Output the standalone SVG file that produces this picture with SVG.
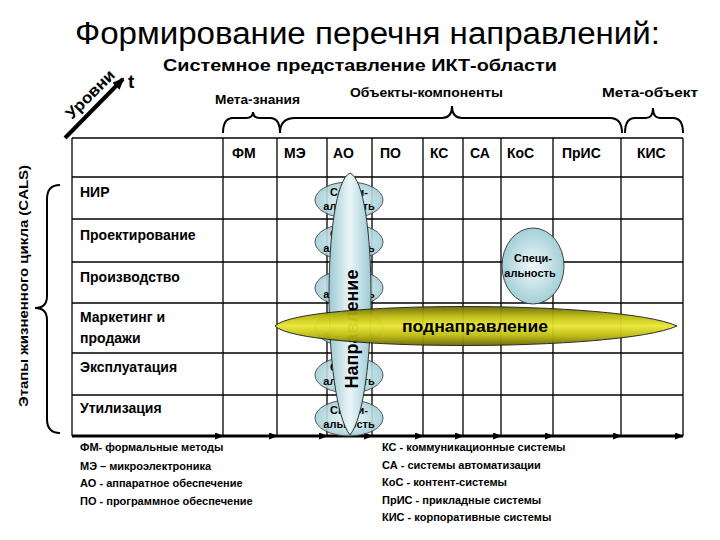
<svg xmlns="http://www.w3.org/2000/svg" width="720" height="540" viewBox="0 0 720 540">
<defs>
<style>
text{font-family:"Liberation Sans",Arial,sans-serif;fill:#000}
.b{font-weight:bold}
.grid line{stroke:#000;stroke-width:1.3}
.brace{fill:none;stroke:#000;stroke-width:2}
.hdr{font-size:14px;font-weight:bold}
.row{font-size:14px;font-weight:bold}
.leg{font-size:11px;font-weight:bold}
.sp{font-size:11px;font-weight:bold;text-anchor:middle}
.bl{fill:url(#gBlue);stroke:#444;stroke-width:1}
.conn line{stroke:#000;stroke-width:3;marker-end:url(#ah)}
</style>
<radialGradient id="gBlue" cx="50%" cy="50%" r="55%">
<stop offset="0" stop-color="#f0f9fa"/>
<stop offset="1" stop-color="#9ccbd4"/>
</radialGradient>
<linearGradient id="gLens" x1="0" y1="0" x2="1" y2="0">
<stop offset="0" stop-color="#9ccad3"/>
<stop offset="0.5" stop-color="#eaf6f8"/>
<stop offset="1" stop-color="#9ccad3"/>
</linearGradient>
<linearGradient id="gYel" x1="0" y1="0" x2="0" y2="1">
<stop offset="0" stop-color="#6a6800"/>
<stop offset="0.25" stop-color="#bcba10"/>
<stop offset="0.5" stop-color="#eae834"/>
<stop offset="0.75" stop-color="#bcba10"/>
<stop offset="1" stop-color="#6a6800"/>
</linearGradient>
<marker id="ah" markerWidth="9" markerHeight="7" refX="8" refY="3.5" orient="auto" markerUnits="userSpaceOnUse">
<path d="M0,0 L9,3.5 L0,7 Z" fill="#000"/>
</marker>
<marker id="ah2" markerWidth="12" markerHeight="10" refX="10" refY="5" orient="auto" markerUnits="userSpaceOnUse">
<path d="M0,0 L12,5 L0,10 Z" fill="#000"/>
</marker>
</defs>
<rect width="720" height="540" fill="#fff"/>

<g id="title">
<text x="75" y="44" font-size="31" textLength="585" lengthAdjust="spacingAndGlyphs">Формирование перечня направлений:</text>
<text x="163" y="71" font-size="17" class="b" textLength="394" lengthAdjust="spacingAndGlyphs">Системное представление ИКТ-области</text>
</g>

<g id="levels">
<line x1="65" y1="138" x2="123" y2="79" stroke="#000" stroke-width="4" marker-end="url(#ah2)"/>
<text transform="translate(94,98) rotate(-45)" font-size="16" class="b" text-anchor="middle" textLength="62" lengthAdjust="spacingAndGlyphs">Уровни</text>
<text x="128" y="88" font-size="19" class="b">t</text>
</g>

<g id="group-labels">
<text x="215" y="104" font-size="12" class="b" textLength="85" lengthAdjust="spacingAndGlyphs">Мета-знания</text>
<text x="350" y="97" font-size="12" class="b" textLength="153" lengthAdjust="spacingAndGlyphs">Объекты-компоненты</text>
<text x="602" y="97" font-size="12" class="b" textLength="96" lengthAdjust="spacingAndGlyphs">Мета-объект</text>
<path class="brace" d="M223,133 Q223,118 233,118 L246,118 Q253,118 253,112 Q253,118 260,118 L270,118 Q280,118 280,133"/>
<path class="brace" d="M280,133 Q280,118 295,118 L442,118 Q452,118 452,106 Q452,118 462,118 L610,118 Q622,118 622,133"/>
<path class="brace" d="M625,133 Q625,118 635,118 L646,118 Q653,118 653,108 Q653,118 660,118 L673,118 Q683,118 683,133"/>
</g>

<g id="lifecycle">
<path class="brace" d="M60,185 Q47,185 47,199 L47,296 Q47,308 35,308 Q47,308 47,320 L47,419 Q47,433 60,433"/>
<text transform="translate(28,286) rotate(-90)" font-size="13" class="b" text-anchor="middle" textLength="242" lengthAdjust="spacingAndGlyphs">Этапы жизненного цикла (CALS)</text>
</g>

<g class="grid" id="table">
<line x1="72" y1="138" x2="683" y2="138"/>
<line x1="72" y1="177" x2="683" y2="177"/>
<line x1="72" y1="219" x2="683" y2="219"/>
<line x1="72" y1="262" x2="683" y2="262"/>
<line x1="72" y1="303" x2="683" y2="303"/>
<line x1="72" y1="353" x2="683" y2="353"/>
<line x1="72" y1="395" x2="683" y2="395"/>
<line x1="72" y1="138" x2="72" y2="436"/>
<line x1="223" y1="138" x2="223" y2="436"/>
<line x1="277" y1="138" x2="277" y2="436"/>
<line x1="327" y1="138" x2="327" y2="436"/>
<line x1="372" y1="138" x2="372" y2="436"/>
<line x1="423" y1="138" x2="423" y2="436"/>
<line x1="463" y1="138" x2="463" y2="436"/>
<line x1="501" y1="138" x2="501" y2="436"/>
<line x1="553" y1="138" x2="553" y2="436"/>
<line x1="621" y1="138" x2="621" y2="436"/>
<line x1="683" y1="138" x2="683" y2="436"/>
</g>

<g id="headers">
<text class="hdr" x="232" y="158">ФМ</text>
<text class="hdr" x="284" y="158">МЭ</text>
<text class="hdr" x="333" y="158">АО</text>
<text class="hdr" x="380" y="158">ПО</text>
<text class="hdr" x="430" y="158">КС</text>
<text class="hdr" x="470" y="158">СА</text>
<text class="hdr" x="507" y="158">КоС</text>
<text class="hdr" x="562" y="158">ПрИС</text>
<text class="hdr" x="637" y="158">КИС</text>
</g>

<g id="rows">
<text class="row" x="80" y="197">НИР</text>
<text class="row" x="80" y="240">Проектирование</text>
<text class="row" x="80" y="282">Производство</text>
<text class="row" x="80" y="322">Маркетинг и</text>
<text class="row" x="80" y="343">продажи</text>
<text class="row" x="80" y="372">Эксплуатация</text>
<text class="row" x="80" y="413">Утилизация</text>
</g>

<g class="conn" id="connectors">
<line x1="72" y1="436" x2="223" y2="436"/>
<line x1="223" y1="436" x2="277" y2="436"/>
<line x1="277" y1="436" x2="327" y2="436"/>
<line x1="327" y1="436" x2="372" y2="436"/>
<line x1="372" y1="436" x2="423" y2="436"/>
<line x1="423" y1="436" x2="463" y2="436"/>
<line x1="463" y1="436" x2="501" y2="436"/>
<line x1="501" y1="436" x2="553" y2="436"/>
<line x1="553" y1="436" x2="621" y2="436"/>
<line x1="621" y1="436" x2="683" y2="436"/>
</g>

<g id="spec1"><ellipse class="bl" cx="349" cy="200" rx="34" ry="18" opacity="0.9"/><text class="sp" x="349" y="196">Специ-</text><text class="sp" x="349" y="210">альность</text></g>
<g id="spec2"><ellipse class="bl" cx="349" cy="242" rx="34" ry="18" opacity="0.9"/><text class="sp" x="349" y="238">Специ-</text><text class="sp" x="349" y="252">альность</text></g>
<g id="spec3"><ellipse class="bl" cx="349" cy="288" rx="34" ry="18" opacity="0.9"/><text class="sp" x="349" y="284">Специ-</text><text class="sp" x="349" y="298">альность</text></g>
<g id="spec4"><ellipse class="bl" cx="349" cy="328" rx="34" ry="18" opacity="0.9"/><text class="sp" x="349" y="324">Специ-</text><text class="sp" x="349" y="338">альность</text></g>
<g id="spec5"><ellipse class="bl" cx="349" cy="375" rx="34" ry="18" opacity="0.9"/><text class="sp" x="349" y="371">Специ-</text><text class="sp" x="349" y="385">альность</text></g>
<g id="spec6"><ellipse class="bl" cx="349" cy="418" rx="34" ry="18" opacity="0.9"/><text class="sp" x="349" y="414">Специ-</text><text class="sp" x="349" y="428">альность</text></g>

<g id="direction">
<path d="M350,173 C378,185 378,400 350,435 C322,400 322,185 350,173 Z" fill="url(#gLens)" stroke="#333" stroke-width="1"/>
<text transform="translate(358,329) rotate(-90)" font-size="18" class="b" text-anchor="middle">Направление</text>
</g>

<g id="spec-right">
<ellipse class="bl" cx="533" cy="266" rx="31" ry="38"/>
<text class="sp" x="533" y="262">Специ-</text>
<text class="sp" x="530" y="277">альность</text>
</g>

<g id="subdirection">
<path d="M275,326 C300,300 620,300 677,326 C620,352 300,352 275,326 Z" fill="url(#gYel)" stroke="#222" stroke-width="1" opacity="0.95"/>
<text x="475" y="332" font-size="17" class="b" text-anchor="middle" textLength="146" lengthAdjust="spacingAndGlyphs">поднаправление</text>
</g>

<g id="legend-left">
<text class="leg" x="80" y="451">ФМ- формальные методы</text>
<text class="leg" x="80" y="470">МЭ – микроэлектроника</text>
<text class="leg" x="80" y="487">АО - аппаратное обеспечение</text>
<text class="leg" x="80" y="505">ПО - программное обеспечение</text>
</g>
<g id="legend-right">
<text class="leg" x="382" y="451">КС - коммуникационные системы</text>
<text class="leg" x="382" y="469">СА - системы автоматизации</text>
<text class="leg" x="382" y="486">КоС - контент-системы</text>
<text class="leg" x="382" y="504">ПрИС - прикладные системы</text>
<text class="leg" x="382" y="521">КИС - корпоративные системы</text>
</g>
</svg>
